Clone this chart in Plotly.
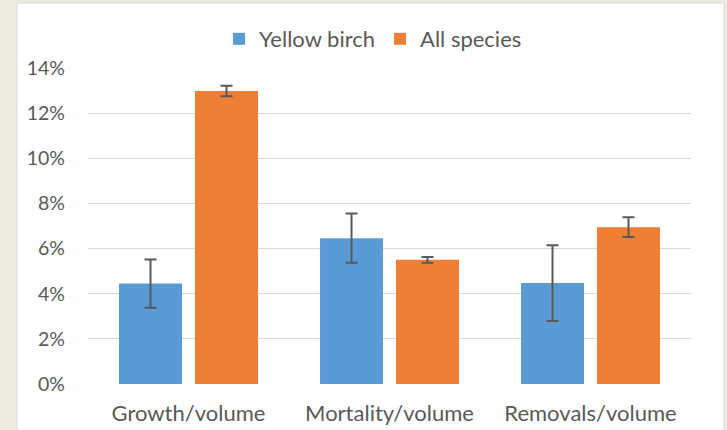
import plotly.graph_objects as go

categories = ["Growth/volume", "Mortality/volume", "Removals/volume"]
yellow_birch = [4.45, 6.46, 4.47]
yellow_birch_err = [1.07, 1.09, 1.68]
all_species = [12.98, 5.50, 6.95]
all_species_err = [0.23, 0.13, 0.44]
y_ticks = [0, 2, 4, 6, 8, 10, 12, 14]
y_tick_labels = [f"{v}%" for v in y_ticks]

FONT = "Lato"
TXT = "#595959"

fig = go.Figure()
fig.add_trace(go.Bar(
    name="Yellow birch", x=categories, y=yellow_birch,
    marker=dict(color="#5b9bd5", line=dict(width=0)),
    error_y=dict(type="data", array=yellow_birch_err, color="#595959", thickness=2, width=6),
))
fig.add_trace(go.Bar(
    name="All species", x=categories, y=all_species,
    marker=dict(color="#ef7f34", line=dict(width=0)),
    error_y=dict(type="data", array=all_species_err, color="#595959", thickness=2, width=6),
))

L, R, T, B = 88, 36, 68, 46
W, H = 727, 430
pw, ph = W - L - R, H - T - B

def px_x(p):
    return (p - L) / pw

def px_y(p):
    return (H - B - p) / ph

fig.add_shape(type="rect", xref="paper", yref="paper", layer="below",
              x0=px_x(17), x1=px_x(724), y0=px_y(431), y1=px_y(3),
              fillcolor="white", line=dict(color="#d9d9d9", width=1))

fig.update_layout(
    width=W, height=H,
    margin=dict(l=L, r=R, t=T, b=B, autoexpand=False),
    paper_bgcolor="#eeebe0",
    plot_bgcolor="white",
    barmode="group",
    bargap=0.244,
    bargroupgap=0.171,
    font=dict(family=FONT, color=TXT, size=18),
    legend=dict(orientation="h", xanchor="center", x=px_x(373), yanchor="middle", y=px_y(39),
                font=dict(size=22, color=TXT), bgcolor="rgba(0,0,0,0)", itemwidth=30),
    showlegend=True,
)
fig.update_yaxes(range=[0, 14], tickvals=y_ticks, ticktext=y_tick_labels,
                 showgrid=True, gridcolor="#d9d9d9", gridwidth=1,
                 zeroline=False, showline=False, ticks="", automargin=False,
                 ticklabelstandoff=22, tickfont=dict(size=19.5, color=TXT))
fig.update_xaxes(showgrid=False, showline=False, ticks="", zeroline=False, automargin=False,
                 ticklabelstandoff=14, tickfont=dict(size=22, color=TXT))

fig.write_html("out.html", config={"displayModeBar": False},
               post_script="document.body.style.margin='0';document.body.style.background='#eeebe0';")
